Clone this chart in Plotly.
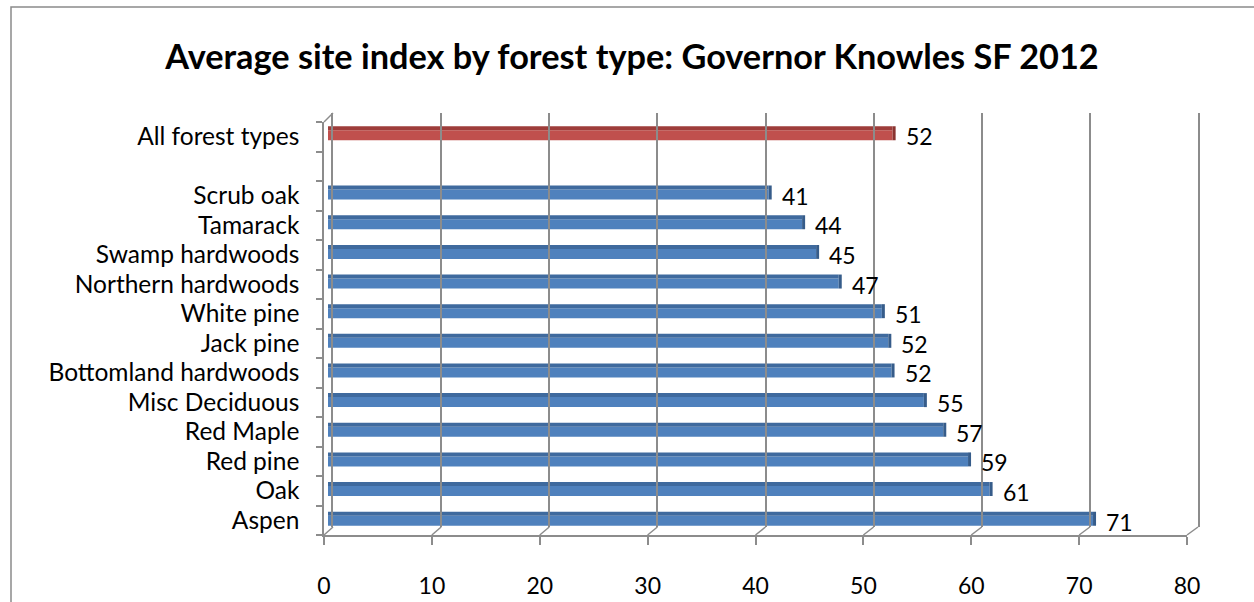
import plotly.graph_objects as go

# ---------------- data ----------------
forest_types = ["Aspen", "Oak", "Red pine", "Red Maple", "Misc Deciduous",
                "Bottomland hardwoods", "Jack pine", "White pine",
                "Northern hardwoods", "Swamp hardwoods", "Tamarack", "Scrub oak"]
site_index = [71.0, 61.4, 59.4, 57.1, 55.3, 52.3, 52.0, 51.4, 47.4, 45.3, 44.0, 40.9]
all_label = "All forest types"
all_value = 52.4
blank_slot = " "
categories = forest_types + [blank_slot, all_label]
x_ticks = [0, 10, 20, 30, 40, 50, 60, 70, 80]
title_text = "Average site index by forest type: Governor Knowles SF 2012"

# ---------------- helpers ----------------
W, H = 1254, 602
def fx(px):
    return px / W
def fy(py):
    return 1 - py / H

FONT = "Lato"
AX = "#8c8c8c"
BLUE, BLUE_TOP, BLUE_CAP = "#4F81BD", "#3F6A9E", "#365C8A"
RED, RED_TOP, RED_CAP = "#C0504D", "#9E3D3A", "#8A3330"
LBL = 23
CAT = 24.5

fig = go.Figure()

def add_bar(cats, vals, face, top, cap):
    fig.add_trace(go.Bar(y=cats, x=vals, orientation="h", marker=dict(color=face, line=dict(width=0)),
                         offset=-0.236, width=0.337, xaxis="x", yaxis="y", hoverinfo="skip"))
    fig.add_trace(go.Bar(y=cats, x=vals, orientation="h", marker=dict(color=top, line=dict(width=0)),
                         offset=0.101, width=0.135, xaxis="x", yaxis="y", hoverinfo="skip"))
    fig.add_trace(go.Bar(y=cats, x=[0.28] * len(vals), base=vals, orientation="h",
                         marker=dict(color=cap, line=dict(width=0)),
                         offset=-0.236, width=0.472, xaxis="x", yaxis="y", hoverinfo="skip"))

add_bar(forest_types, site_index, BLUE, BLUE_TOP, BLUE_CAP)
add_bar([all_label], [all_value], RED, RED_TOP, RED_CAP)

# value labels
for c, v in list(zip(forest_types, site_index)) + [(all_label, all_value)]:
    fig.add_annotation(x=v, y=c, xref="x", yref="y", text=f"{v:.0f}", showarrow=False,
                       xanchor="left", yanchor="middle", xshift=11, yshift=-3,
                       font=dict(family=FONT, size=LBL, color="black"))

# invisible traces to anchor other axes
fig.add_trace(go.Scatter(x=[0], y=[categories[0]], xaxis="x2", yaxis="y2", mode="markers",
                         marker=dict(opacity=0), hoverinfo="skip"))
fig.add_trace(go.Scatter(x=[0], y=[0], xaxis="x3", yaxis="y3", mode="markers",
                         marker=dict(opacity=0), hoverinfo="skip"))

cat_axis = dict(type="category", categoryorder="array", categoryarray=categories,
                range=[-0.5, len(categories) - 0.5])

fig.update_layout(
    width=W, height=H, margin=dict(l=0, r=0, t=0, b=0),
    paper_bgcolor="white", plot_bgcolor="rgba(0,0,0,0)",
    showlegend=False, barmode="overlay",
    font=dict(family=FONT, color="black"),
    title=dict(text=f"<b>{title_text}</b>", x=0.504, xanchor="center", y=fy(57), yanchor="middle",
               font=dict(family=FONT, size=34.3, color="black")),
    # bars (middle depth)
    xaxis=dict(domain=[fx(328), fx(1190)], range=[0, 80], visible=False, anchor="y"),
    yaxis=dict(domain=[fy(533.5), fy(118.5)], visible=False, anchor="x", **cat_axis),
    # front axes
    xaxis2=dict(domain=[fx(324), fx(1187)], range=[0, 80], anchor="y2", showline=True,
                linecolor=AX, linewidth=1.5, ticks="outside", ticklen=8, tickcolor=AX, tickwidth=1.5,
                tickvals=x_ticks, showgrid=False, zeroline=False, automargin=False,
                ticklabelstandoff=22, tickfont=dict(family=FONT, size=LBL, color="black")),
    yaxis2=dict(domain=[fy(535), fy(122)], anchor="x2", showline=True, linecolor=AX, linewidth=1.5,
                ticks="outside", ticklen=6, tickcolor=AX, tickwidth=1.5, tickson="boundaries",
                showgrid=False, zeroline=False, automargin=False, ticklabelstandoff=18,
                tickfont=dict(family=FONT, size=CAT, color="black"), **cat_axis),
    # back wall
    xaxis3=dict(domain=[fx(333), fx(1198)], range=[0, 80], anchor="y3", showgrid=True,
                gridcolor=AX, gridwidth=1.8, tickvals=x_ticks, showticklabels=False, ticks="",
                zeroline=False, showline=False, automargin=False),
    yaxis3=dict(domain=[fy(527), fy(113)], range=[0, 1], anchor="x3", showgrid=False, showline=True,
                mirror=True, linecolor=AX, linewidth=1.8, showticklabels=False, ticks="",
                zeroline=False, automargin=False),
)

shapes = []
# depth connectors: floor lines at each tick, top and bottom of left wall
front0, front1 = 324, 1187
back0, back1 = 333, 1198
for v in x_ticks:
    xf = front0 + (front1 - front0) * v / 80
    xb = back0 + (back1 - back0) * v / 80
    shapes.append(dict(type="line", xref="paper", yref="paper", x0=fx(xf), y0=fy(535), x1=fx(xb), y1=fy(527),
                       line=dict(color=AX, width=1.5)))
shapes.append(dict(type="line", xref="paper", yref="paper", x0=fx(front0), y0=fy(122), x1=fx(back0), y1=fy(113),
                   line=dict(color=AX, width=1.5)))
# outer chart border
shapes.append(dict(type="rect", xref="paper", yref="paper", x0=fx(11), y0=-0.05, x1=1.05, y1=fy(7),
                   line=dict(color="#8a8a8a", width=1.5), fillcolor="rgba(0,0,0,0)"))
fig.update_layout(shapes=shapes)

fig.write_html("out.html")
